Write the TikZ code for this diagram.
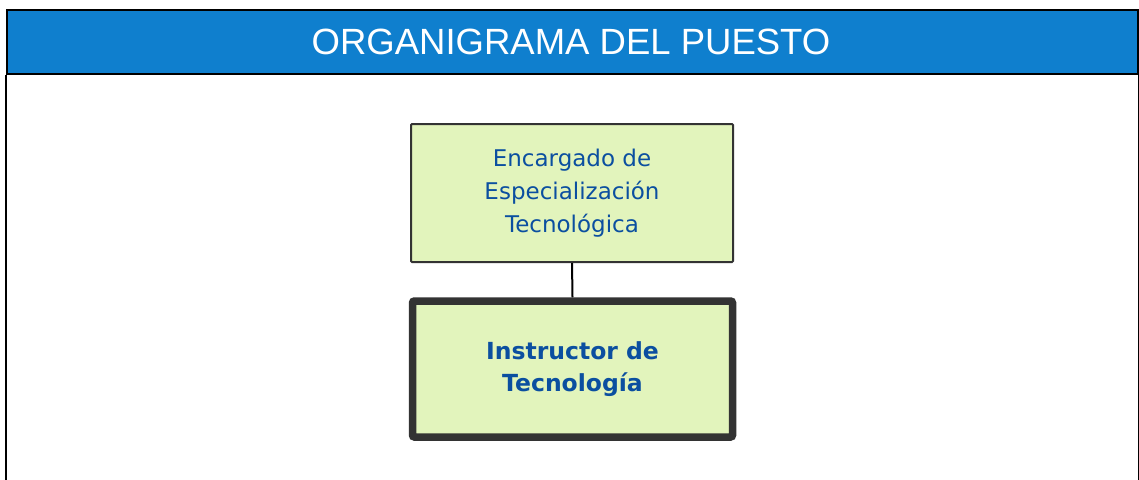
\documentclass[tikz,border=0pt]{standalone}
\usepackage{fontspec}
\setmainfont{DejaVu Sans}
\newfontfamily\titlefont{Liberation Sans}
\definecolor{hdrblue}{HTML}{0F7FCE}
\definecolor{boxfill}{HTML}{E2F4BC}
\definecolor{boxline}{HTML}{333333}
\definecolor{txtblue}{HTML}{0B4FA0}
\tikzset{
  orgbox/.style={draw=boxline, fill=boxfill, text=txtblue, align=center, inner sep=0pt},
}
\begin{document}
\begin{tikzpicture}[x=1pt,y=-1pt]
\useasboundingbox (0,0) rectangle (1139,479);
\fill[white] (0,0) rectangle (1139,479);
% header
\node[fill=hdrblue, draw=black, line width=2pt, minimum width=1131pt, minimum height=64pt, inner sep=0pt, anchor=north west] (hdr) at (6,9) {};
\node[text=white, font=\titlefont\fontsize{36.5}{40}\selectfont] (title) at (571,42) {ORGANIGRAMA DEL PUESTO};
\draw[line width=2pt] (hdr.south west) -- ++(0,420);
\draw[line width=2pt] (hdr.south east) -- ++(0,420);
% boxes
\node[orgbox, line width=2pt, minimum width=322pt, minimum height=138pt, font=\fontsize{23}{33}\selectfont, rounded corners=1pt] (enc) at (572,193) {Encargado de\\Especialización\\Tecnológica};
\node[orgbox, line width=7.5pt, minimum width=320pt, minimum height=136pt, font=\bfseries\fontsize{23.5}{32}\selectfont, rounded corners=2pt] (ins) at (572.5,369) {Instructor de\\Tecnología};
\draw[line width=2pt, black] (enc.south) -- (ins.north);
\end{tikzpicture}
\end{document}
